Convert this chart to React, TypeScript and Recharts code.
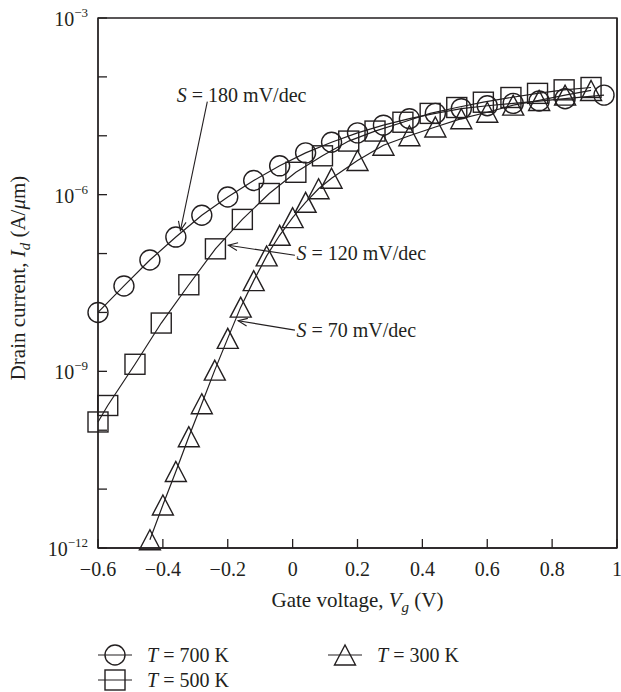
import { Label, Line, LineChart, ReferenceArea, ReferenceDot, ReferenceLine, XAxis, YAxis } from 'recharts'

const INK = '#231f20'
const FONT = '"Liberation Serif", "Times New Roman", serif'

// T = 700 K, circles. gate voltage (V) and log10 of drain current (A/um)
const v700 = [-0.6, -0.52, -0.44, -0.36, -0.28, -0.2, -0.12, -0.04, 0.04, 0.12, 0.2, 0.28, 0.36, 0.44, 0.52, 0.6, 0.68, 0.76, 0.84, 0.96]
const e700 = [-8.0, -7.55, -7.11, -6.72, -6.35, -6.04, -5.76, -5.51, -5.29, -5.11, -4.95, -4.82, -4.71, -4.62, -4.54, -4.49, -4.45, -4.41, -4.37, -4.31]

// T = 500 K, squares
const v500 = [-0.6, -0.57, -0.486, -0.405, -0.32, -0.238, -0.155, -0.072, 0.01, 0.092, 0.173, 0.254, 0.34, 0.424, 0.506, 0.588, 0.673, 0.755, 0.837, 0.92]
const e500 = [-9.86, -9.58, -8.88, -8.18, -7.53, -6.92, -6.42, -5.98, -5.62, -5.34, -5.09, -4.92, -4.77, -4.62, -4.52, -4.43, -4.35, -4.28, -4.22, -4.18]

// T = 300 K, triangles
const v300 = [-0.44, -0.4, -0.36, -0.32, -0.28, -0.24, -0.2, -0.16, -0.12, -0.08, -0.04, 0.0, 0.04, 0.08, 0.12, 0.2, 0.28, 0.36, 0.44, 0.52, 0.6, 0.68, 0.76, 0.84, 0.92]
const e300 = [-11.86, -11.27, -10.7, -10.11, -9.55, -8.98, -8.44, -7.91, -7.46, -7.04, -6.69, -6.39, -6.13, -5.9, -5.72, -5.42, -5.16, -5.0, -4.85, -4.71, -4.6, -4.48, -4.4, -4.31, -4.23]

const xTicks = [-0.6, -0.4, -0.2, 0, 0.2, 0.4, 0.6, 0.8, 1]
const yExps = [-12, -11, -10, -9, -8, -7, -6, -5, -4, -3]
const yTicks = yExps.map((e) => 10 ** e)

// slope annotations: text start, arrow tail, arrow head (V, log10 A/um)
const slopeText = ['180', '120', '70']
const slopeTextV = [-0.357, 0.012, 0.012]
const slopeTextE = [-4.31, -6.99, -8.29]
const slopeTailV = [-0.263, 0.007, 0.007]
const slopeTailE = [-4.42, -7.03, -8.3]
const slopeHeadV = [-0.346, -0.198, -0.168]
const slopeHeadE = [-6.61, -6.86, -8.14]

const rows = (vs: number[], es: number[]) => vs.map((v, k) => ({ v, i: 10 ** es[k] }))

const marker = (kind: string, cx: number, cy: number, key?: string) => {
  const common = { key, fill: 'none', stroke: INK, strokeWidth: 1.4 }
  if (kind === 'circle') return <circle {...common} cx={cx} cy={cy} r={10} />
  if (kind === 'square') return <rect {...common} x={cx - 10} y={cy - 10} width={20} height={20} />
  return <polygon {...common} points={`${cx},${cy - 10} ${cx - 10.5},${cy + 10} ${cx + 10.5},${cy + 10}`} />
}

const dotFor = (kind: string) => (p: any) => marker(kind, p.cx, p.cy, `${kind}-${p.index}`)

const fmtX = (v: number) => (v === 0 ? '0' : v === 1 ? '1' : v.toFixed(1).replace('-', '\u2212'))

const XTick = ({ x, y, payload }: any) => (
  <g>
    <line x1={x} x2={x} y1={y} y2={y - 9} stroke={INK} strokeWidth={1.3} />
    <text x={x} y={y + 28} textAnchor="middle" fontFamily={FONT} fontSize={20} fill={INK}>
      {fmtX(payload.value)}
    </text>
  </g>
)

const YTick = ({ x, y, payload }: any) => {
  const e = Math.round(Math.log10(payload.value))
  return (
    <g>
      <line x1={x} x2={x + 9} y1={y} y2={y} stroke={INK} strokeWidth={1.3} />
      {e % 3 === 0 && (
        <text x={x - 10} y={y + 8} textAnchor="end" fontFamily={FONT} fontSize={20} fill={INK}>
          10
          <tspan dy={-9} fontSize={13}>{`\u2212${-e}`}</tspan>
        </text>
      )}
    </g>
  )
}

const Arrow = (p: any) => {
  const { x1, y1, x2, y2 } = p
  const a = Math.atan2(y1 - y2, x1 - x2)
  const len = 10
  const w = 0.4
  return (
    <g>
      <line x1={x1} y1={y1} x2={x2} y2={y2} stroke={INK} strokeWidth={1.1} />
      <polyline
        points={`${x2 + len * Math.cos(a + w)},${y2 + len * Math.sin(a + w)} ${x2},${y2} ${x2 + len * Math.cos(a - w)},${y2 + len * Math.sin(a - w)}`}
        fill="none"
        stroke={INK}
        strokeWidth={1.1}
      />
    </g>
  )
}

const legendItems = [
  { kind: 'circle', label: '700', x: 115, y: 655 },
  { kind: 'square', label: '500', x: 115, y: 680 },
  { kind: 'triangle', label: '300', x: 345, y: 655 },
]

export default function App() {
  return (
    <div style={{ position: 'fixed', left: 0, top: 0, width: 621, height: 692, overflow: 'hidden', background: '#fff' }}>
      <LineChart width={621} height={692} margin={{ top: 18, right: 4, bottom: 84, left: 8 }}>
        <XAxis
          dataKey="v"
          type="number"
          domain={[-0.6, 1]}
          ticks={xTicks}
          interval={0}
          height={60}
          tickSize={0}
          tickMargin={0}
          tickLine={false}
          axisLine={{ stroke: INK, strokeWidth: 1.3 }}
          tick={<XTick />}
        >
          <Label
            content={({ viewBox }: any) => (
              <text x={viewBox.x + viewBox.width / 2} y={viewBox.y + 59} textAnchor="middle" fontFamily={FONT} fontSize={21} fill={INK}>
                Gate voltage, <tspan fontStyle="italic">V</tspan>
                <tspan fontSize={15} fontStyle="italic" dy={5}>g</tspan>
                <tspan dy={-5}> (V)</tspan>
              </text>
            )}
          />
        </XAxis>
        <XAxis xAxisId="top" orientation="top" type="number" domain={[-0.6, 1]} height={0} tick={false} tickLine={false} axisLine={{ stroke: INK, strokeWidth: 1.3 }} />
        <YAxis
          type="number"
          scale="log"
          domain={[1e-12, 1e-3]}
          ticks={yTicks}
          interval={0}
          width={90}
          tickSize={0}
          tickMargin={0}
          tickLine={false}
          axisLine={{ stroke: INK, strokeWidth: 1.3 }}
          tick={<YTick />}
        >
          <Label
            content={({ viewBox }: any) => {
              const cx = 25
              const cy = viewBox.y + viewBox.height / 2 - 5
              return (
                <text x={cx} y={cy} transform={`rotate(-90 ${cx} ${cy})`} textAnchor="middle" fontFamily={FONT} fontSize={21} fill={INK}>
                  Drain current, <tspan fontStyle="italic">I</tspan>
                  <tspan fontSize={15} fontStyle="italic" dy={5}>d</tspan>
                  <tspan dy={-5}> (A/</tspan>
                  <tspan fontStyle="italic">μ</tspan>
                  <tspan>m)</tspan>
                </text>
              )
            }}
          />
        </YAxis>
        <ReferenceArea x1={-0.6} x2={1} y1={1e-12} y2={1e-3} fill="none" fillOpacity={0} stroke={INK} strokeWidth={1.3} ifOverflow="visible" />
        <ReferenceLine x={1} stroke={INK} strokeWidth={1.5} ifOverflow="visible" />
        {slopeText.map((s, k) => (
          <ReferenceLine
            key={`arrow-${s}`}
            segment={[
              { x: slopeTailV[k], y: 10 ** slopeTailE[k] },
              { x: slopeHeadV[k], y: 10 ** slopeHeadE[k] },
            ]}
            shape={Arrow}
          />
        ))}
        {slopeText.map((s, k) => (
          <ReferenceDot
            key={`text-${s}`}
            x={slopeTextV[k]}
            y={10 ** slopeTextE[k]}
            r={0}
            shape={(p: any) => (
              <text x={p.cx} y={p.cy + 7} fontFamily={FONT} fontSize={20} fill={INK}>
                <tspan fontStyle="italic">S</tspan> = {s} mV/dec
              </text>
            )}
          />
        ))}
        <Line data={rows(v700, e700)} dataKey="i" name="T = 700 K" stroke={INK} strokeWidth={1.2} dot={dotFor('circle')} isAnimationActive={false} />
        <Line data={rows(v500, e500)} dataKey="i" name="T = 500 K" stroke={INK} strokeWidth={1.2} dot={dotFor('square')} isAnimationActive={false} />
        <Line data={rows(v300, e300)} dataKey="i" name="T = 300 K" stroke={INK} strokeWidth={1.2} dot={dotFor('triangle')} isAnimationActive={false} />
      </LineChart>
      <svg width={621} height={692} style={{ position: 'absolute', left: 0, top: 0, pointerEvents: 'none' }}>
        {legendItems.map((it) => (
          <g key={it.kind}>
            <line x1={it.x - 17} x2={it.x + 17} y1={it.y} y2={it.y} stroke={INK} strokeWidth={1.2} />
            {marker(it.kind, it.x, it.y)}
            <text x={it.x + 32} y={it.y + 7} fontFamily={FONT} fontSize={20} fill={INK}>
              <tspan fontStyle="italic">T</tspan> = {it.label} K
            </text>
          </g>
        ))}
      </svg>
    </div>
  )
}
